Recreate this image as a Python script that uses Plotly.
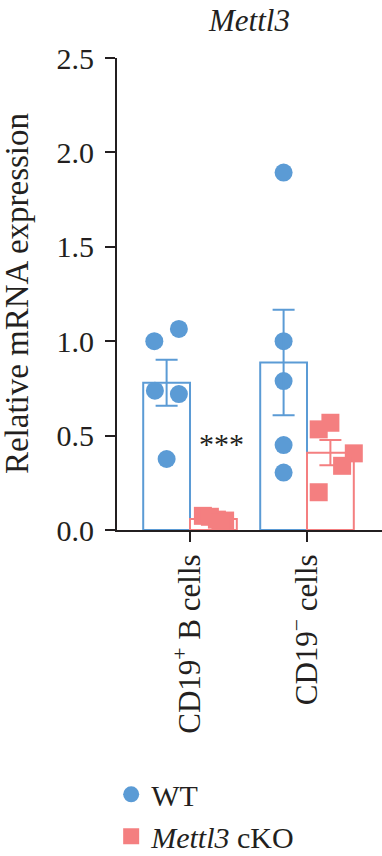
import numpy as np
import plotly.graph_objects as go

categories = ["CD19<sup>+</sup> B cells", "CD19<sup>−</sup> cells"]
groups = ["WT", "<i>Mettl3</i> cKO"]

wt_cd19pos = [1.00, 1.065, 0.738, 0.72, 0.376]
wt_cd19neg = [1.893, 1.00, 0.789, 0.45, 0.304]
ko_cd19pos = [0.075, 0.07, 0.055, 0.05, 0.04]
ko_cd19neg = [0.533, 0.568, 0.406, 0.34, 0.20]

y_ticks = [0.0, 0.5, 1.0, 1.5, 2.0, 2.5]
y_title = "Relative mRNA expression"

# style: horizontal jitter of points (in category units)
jit_wt = [[-0.105, 0.105, -0.10, 0.105, 0.0], [0, 0, 0, 0, 0]]
jit_ko = [[-0.09, -0.03, 0.03, 0.10, 0.06], [-0.10, 0.0, 0.20, 0.10, -0.10]]

BLUE = "#5B9BD5"
PINK = "#F47F80"
FONT = "Liberation Serif"
INK = "#231F20"

data = {"WT": [wt_cd19pos, wt_cd19neg], "KO": [ko_cd19pos, ko_cd19neg]}
series = [("WT", BLUE, -0.2, jit_wt, "circle", groups[0]),
          ("KO", PINK, 0.2, jit_ko, "square", groups[1])]

idx = [0, 1]
fig = go.Figure()

stats = {}
for key, col, off, jit, sym, name in series:
    vals = data[key]
    means = [float(np.mean(v)) for v in vals]
    sems = [float(np.std(v, ddof=1) / np.sqrt(len(v))) for v in vals]
    stats[key] = (means, sems)
    fig.add_trace(go.Bar(x=idx, y=means, offsetgroup=key, name=name,
                         marker=dict(color="white", line=dict(color=col, width=2)),
                         showlegend=False, hoverinfo="skip"))

for key, col, off, jit, sym, name in series:
    vals = data[key]
    means, sems = stats[key]
    xs, ys = [], []
    for i, v in enumerate(vals):
        xs += [i + off + j for j in jit[i]]
        ys += list(v)
    pts = go.Scatter(x=xs, y=ys, mode="markers", name=name,
                     marker=dict(color=col, size=18, symbol=sym, line=dict(width=0)),
                     showlegend=True)
    err = go.Scatter(x=[i + off for i in idx], y=means, mode="markers",
                     marker=dict(size=1, color="rgba(0,0,0,0)"),
                     error_y=dict(type="data", array=sems, color=col, thickness=2, width=11),
                     showlegend=False, hoverinfo="skip")
    if key == "WT":
        fig.add_trace(pts)
        fig.add_trace(err)
    else:
        fig.add_trace(err)
        fig.add_trace(pts)

fig.add_annotation(x=0.27, y=0.46, xref="x", yref="y", text="***", showarrow=False,
                   font=dict(size=30, family=FONT, color=INK))
fig.add_annotation(x=-0.377, y=0.5, xref="paper", yref="paper", text=y_title,
                   textangle=-90, showarrow=False, xanchor="center", yanchor="middle",
                   font=dict(size=33, family=FONT, color=INK))

fig.update_layout(
    width=382, height=856,
    margin=dict(l=117, r=0, t=58, b=326, autoexpand=False),
    paper_bgcolor="white", plot_bgcolor="white",
    font=dict(family=FONT, size=30, color=INK),
    barmode="group", bargap=0.2, bargroupgap=0,
    title=dict(text="<i>Mettl3</i>", x=0.5, xref="paper", y=0.977, yref="container",
               yanchor="middle", xanchor="center", font=dict(size=31, family=FONT)),
    legend=dict(x=-0.022, y=-0.505, xanchor="left", yanchor="top",
                font=dict(size=30, family=FONT), bgcolor="rgba(0,0,0,0)",
                tracegroupgap=0),
    showlegend=True,
)
fig.update_xaxes(range=[-0.624, 1.641], tickvals=idx, ticktext=categories, tickangle=-90,
                 ticks="outside", ticklen=10, tickwidth=2, tickcolor=INK,
                 showline=True, linecolor=INK, linewidth=2,
                 showgrid=False, zeroline=False, automargin=False,
                 tickfont=dict(size=31, family=FONT))
fig.update_yaxes(range=[0, 2.5], tickvals=y_ticks, tickformat=".1f",
                 ticks="outside", ticklen=10, tickwidth=2, tickcolor=INK,
                 showline=True, linecolor=INK, linewidth=2,
                 showgrid=False, zeroline=False, automargin=False,
                 ticklabelstandoff=5)

fig.write_html("out.html", config={"displayModeBar": False},
               post_script="document.body.style.margin='0';document.body.style.overflow='hidden';")
